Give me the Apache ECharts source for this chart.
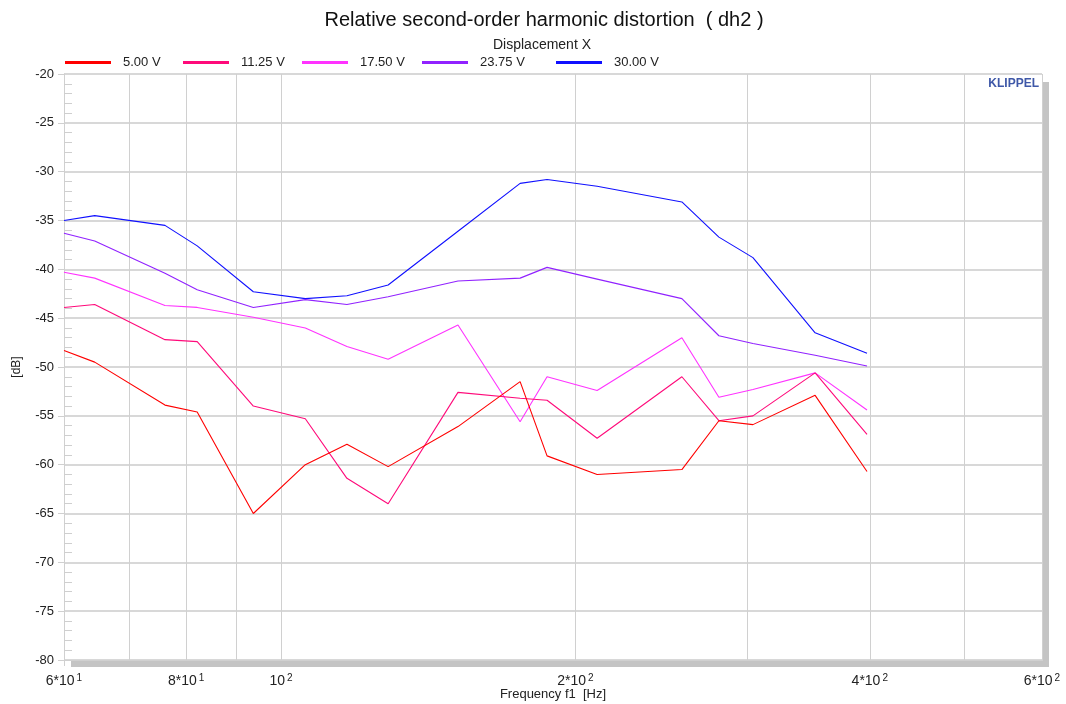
<!DOCTYPE html>
<html>
<head>
<meta charset="utf-8">
<title>Relative second-order harmonic distortion (dh2)</title>
<script src="https://cdn.jsdelivr.net/npm/echarts@6/dist/echarts.min.js"></script>
<style>
  html, body { margin: 0; padding: 0; background: #ffffff; }
  #chart { width: 1066px; height: 704px; }
</style>
</head>
<body>
<div id="chart"></div>
<script>
// Measurement frequencies (Hz)
const freqs = [60, 64.5, 76.1, 82.1, 93.7, 105.9, 116.8, 128.7, 151.7, 175.6, 187.1, 210.5, 257, 280.4, 303.8, 351.7, 397.4];

// Relative 2nd-order harmonic distortion (dB) per drive voltage
const dh2_5V    = [-48.3, -49.5, -53.9, -54.6, -65.0, -60.0, -57.9, -60.2, -56.1, -51.5, -59.1, -61.0, -60.5, -55.5, -55.9, -52.9, -60.7];
const dh2_11_25 = [-43.9, -43.6, -47.2, -47.4, -54.0, -55.3, -61.4, -64.0, -52.6, -53.2, -53.4, -57.3, -51.0, -55.5, -55.0, -50.6, -56.9];
const dh2_17_50 = [-40.3, -40.9, -43.7, -43.9, -44.9, -46.0, -47.9, -49.2, -45.7, -55.6, -51.0, -52.4, -47.0, -53.1, -52.3, -50.6, -54.4];
const dh2_23_75 = [-36.3, -37.1, -40.4, -42.1, -43.9, -43.1, -43.6, -42.8, -41.2, -40.9, -39.8, -41.0, -43.0, -46.8, -47.6, -48.8, -49.9];
const dh2_30    = [-35.0, -34.5, -35.5, -37.6, -42.3, -43.0, -42.7, -41.6, -36.1, -31.2, -30.8, -31.5, -33.1, -36.7, -38.8, -46.5, -48.6];

const seriesNames  = ['5.00 V', '11.25 V', '17.50 V', '23.75 V', '30.00 V'];
const seriesValues = [dh2_5V, dh2_11_25, dh2_17_50, dh2_23_75, dh2_30];
const seriesColors = ['#ff0000', '#ff0a7a', '#ff33ff', '#9122ff', '#1010ff'];

// Axis ticks
const xLabelValues = [60, 80, 100, 200, 400, 600];
const xGridValues  = [60, 70, 80, 90, 100, 200, 300, 400, 500, 600];
const legendLefts  = [65, 183, 302, 422, 556];

const FONT = '"Liberation Sans", Arial, sans-serif';

function freqLabel(v) {
  const e = Math.floor(Math.log10(v) + 1e-9);
  const m = Math.round(v / Math.pow(10, e));
  return m === 1 ? '10{sup|' + e + '}' : m + '*10{sup|' + e + '}';
}

const chart = echarts.init(document.getElementById('chart'), null, { renderer: 'canvas' });

const series = seriesNames.map((name, i) => ({
  name: name,
  type: 'line',
  xAxisIndex: 0,
  yAxisIndex: 0,
  showSymbol: false,
  symbol: 'none',
  lineStyle: { width: 1.1, color: seriesColors[i] },
  itemStyle: { color: seriesColors[i] },
  data: freqs.map((f, k) => [f, seriesValues[i][k]]),
  z: 10 - i
}));

const legends = seriesNames.map((name, i) => ({
  data: [name],
  left: legendLefts[i],
  top: 56,
  padding: 0,
  icon: 'rect',
  itemWidth: 46,
  itemHeight: 3,
  selectedMode: false,
  textStyle: { fontFamily: FONT, fontSize: 13, color: '#222', padding: [0, 0, 0, 7] }
}));

chart.setOption({
  animation: false,
  backgroundColor: '#ffffff',
  title: [
    {
      text: 'Relative second-order harmonic distortion  ( dh2 )',
      left: 539, top: 5, textAlign: 'center',
      textStyle: { fontFamily: FONT, fontSize: 20, fontWeight: 'normal', color: '#111' }
    },
    {
      text: 'Displacement X',
      left: 537, top: 33, textAlign: 'center',
      textStyle: { fontFamily: FONT, fontSize: 14, fontWeight: 'normal', color: '#222' }
    }
  ],
  legend: legends,
  grid: { left: 64, right: 24, top: 74, bottom: 44, containLabel: false, outerBoundsMode: 'none' },
  xAxis: {
    type: 'log',
    logBase: 10,
    min: 60,
    max: 600,
    name: 'Frequency f1  [Hz]',
    nameLocation: 'middle',
    nameGap: 28,
    nameMoveOverlap: false,
    nameTextStyle: { fontFamily: FONT, fontSize: 13, color: '#222' },
    axisLine: { show: true, lineStyle: { color: '#d0d0d0', width: 1 } },
    axisTick: { show: true, customValues: xGridValues, length: 6, lineStyle: { color: '#d0d0d0' } },
    axisLabel: {
      customValues: xLabelValues,
      margin: 13,
      fontFamily: FONT, fontSize: 14, color: '#222',
      formatter: freqLabel,
      rich: {
        sup: { fontFamily: FONT, fontSize: 10, color: '#222', verticalAlign: 'top', padding: [0, 0, 6, 2] }
      }
    },
    splitLine: { show: true, lineStyle: { color: '#d0d0d0', width: 1 } },
    minorTick: { show: false },
    minorSplitLine: { show: false }
  },
  yAxis: [
    {
      type: 'value',
      min: -80,
      max: -20,
      interval: 5,
      name: '[dB]',
      nameLocation: 'middle',
      nameRotate: 90,
      nameGap: 41,
      nameMoveOverlap: false,
      nameTextStyle: { fontFamily: FONT, fontSize: 12, color: '#222' },
      axisLine: { show: true, lineStyle: { color: '#d0d0d0', width: 1 } },
      axisTick: { show: true, length: 6, lineStyle: { color: '#d0d0d0' } },
      axisLabel: { margin: 10, fontFamily: FONT, fontSize: 13, color: '#222' },
      splitLine: { show: true, lineStyle: { color: '#d8d8d8', width: 2 } }
    },
    {
      // 1 dB minor ticks drawn on the inside of the left edge
      type: 'value',
      min: -80,
      max: -20,
      interval: 5,
      position: 'left',
      axisLine: { show: false },
      axisTick: { show: false, inside: true },
      axisLabel: { show: false },
      splitLine: { show: false },
      minorTick: { show: true, splitNumber: 5, length: 8, lineStyle: { color: '#cfcfcf', width: 1 } }
    }
  ],
  graphic: [
    // frame shadow along the bottom and right edges
    { type: 'rect', silent: true, z: 1, shape: { x: 71, y: 661, width: 978, height: 6 }, style: { fill: '#c4c4c4' } },
    { type: 'rect', silent: true, z: 1, shape: { x: 1043, y: 82, width: 6, height: 585 }, style: { fill: '#c4c4c4' } },
    {
      type: 'text', right: 27, top: 78, z: 20,
      style: { text: 'KLIPPEL', fontFamily: FONT, fontSize: 12, fontWeight: 'bold', fill: '#3f58a8' }
    }
  ],
  series: series
});
</script>
</body>
</html>
